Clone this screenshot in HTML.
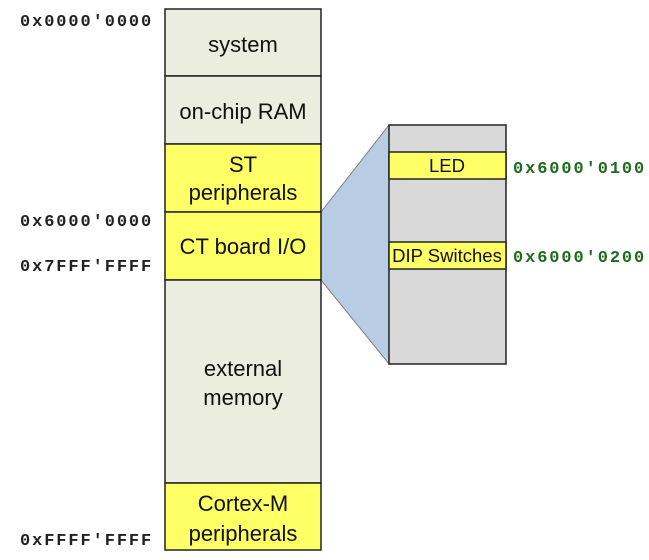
<!DOCTYPE html>
<html><head><style>
body{margin:0;background:#fff;}
svg text{font-family:"Liberation Sans",sans-serif;}
svg text.m{font-family:"Liberation Mono",monospace;font-weight:bold;font-size:17px;letter-spacing:1.9px;}
</style></head><body>
<svg width="649" height="555" viewBox="0 0 649 555" xmlns="http://www.w3.org/2000/svg">
<polygon points="321,212 389,125 389,364 321,280" fill="#b8cce4" stroke="#808080" stroke-width="1"/>
<g stroke="#222" stroke-width="1.5">
<rect x="165" y="9" width="156" height="67" fill="#ebeedf"/>
<rect x="165" y="76" width="156" height="68" fill="#ebeedf"/>
<rect x="165" y="144" width="156" height="68" fill="#ffff66"/>
<rect x="165" y="212" width="156" height="68" fill="#ffff66"/>
<rect x="165" y="280" width="156" height="203" fill="#ebeedf"/>
<rect x="165" y="483" width="156" height="67" fill="#ffff66"/>
<rect x="389" y="125" width="117" height="239" fill="#d9d9d9"/>
<rect x="389" y="152" width="117" height="27" fill="#ffff66"/>
<rect x="389" y="242" width="117" height="27" fill="#ffff66"/>
</g>
<g font-size="22" fill="#111" text-anchor="middle">
<text x="243" y="52">system</text>
<text x="243" y="119">on-chip RAM</text>
<text x="243" y="172">ST</text>
<text x="243" y="200">peripherals</text>
<text x="243" y="254">CT board I/O</text>
<text x="243" y="376">external</text>
<text x="243" y="405">memory</text>
<text x="243" y="511">Cortex-M</text>
<text x="243" y="541">peripherals</text>
</g>
<g font-size="18.5" fill="#111" text-anchor="middle">
<text x="447" y="172">LED</text>
<text x="447" y="262">DIP Switches</text>
</g>
<g fill="#222">
<text class="m" x="20" y="26">0x0000'0000</text>
<text class="m" x="20" y="226">0x6000'0000</text>
<text class="m" x="20" y="271">0x7FFF'FFFF</text>
<text class="m" x="20" y="545">0xFFFF'FFFF</text>
</g>
<g fill="#1e6b1e">
<text class="m" x="513" y="173">0x6000'0100</text>
<text class="m" x="513" y="262">0x6000'0200</text>
</g>
</svg>
</body></html>
